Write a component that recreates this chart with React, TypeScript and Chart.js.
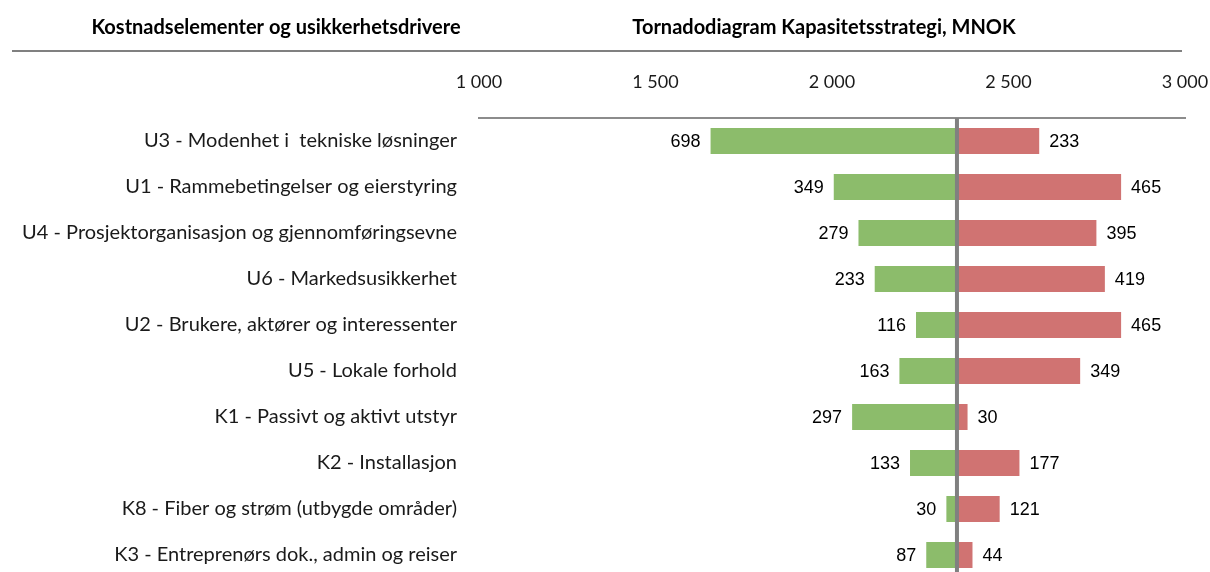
import { useEffect, useRef } from "react";
import { Chart, registerables } from "chart.js";

Chart.register(...registerables);

const categories = [
  "U3 - Modenhet i  tekniske løsninger",
  "U1 - Rammebetingelser og eierstyring",
  "U4 - Prosjektorganisasjon og gjennomføringsevne",
  "U6 - Markedsusikkerhet",
  "U2 - Brukere, aktører og interessenter",
  "U5 - Lokale forhold",
  "K1 - Passivt og aktivt utstyr",
  "K2 - Installasjon",
  "K8 - Fiber og strøm (utbygde områder)",
  "K3 - Entreprenørs dok., admin og reiser",
];
const lowSwing = [698, 349, 279, 233, 116, 163, 297, 133, 30, 87];
const highSwing = [233, 465, 395, 419, 465, 349, 30, 177, 121, 44];
const baseValue = 2354;
const xTickValues = [1000, 1500, 2000, 2500, 3000];
const leftHeader = "Kostnadselementer og usikkerhetsdrivere";
const rightHeader = "Tornadodiagram Kapasitetsstrategi, MNOK";

const GREEN = "#8CBC6B";
const RED = "#D07372";
const LABEL_FONT = "Lato";

function fmt(v: number): string {
  return String(v).replace(/\B(?=(\d{3})+(?!\d))/g, " ");
}

const overlayPlugin = {
  id: "tornadoOverlay",
  afterDatasetsDraw(chart: any) {
    const { ctx, chartArea, scales } = chart;
    const xs = scales.x;
    const ys = scales.y;
    ctx.save();
    // center line
    const cx = xs.getPixelForValue(baseValue);
    ctx.strokeStyle = "#808080";
    ctx.lineWidth = 4;
    ctx.beginPath();
    ctx.moveTo(cx, chartArea.top);
    ctx.lineTo(cx, chartArea.bottom);
    ctx.stroke();
    // value labels
    ctx.font = "18px 'Liberation Sans', Arial, sans-serif";
    ctx.fillStyle = "#000000";
    ctx.textBaseline = "middle";
    categories.forEach((_, i) => {
      const y = ys.getPixelForValue(i) + 1;
      const lx = xs.getPixelForValue(baseValue - lowSwing[i]);
      ctx.textAlign = "right";
      ctx.fillText(String(lowSwing[i]), lx - 10, y);
      const rx = xs.getPixelForValue(baseValue + highSwing[i]);
      ctx.textAlign = "left";
      ctx.fillText(String(highSwing[i]), rx + 10, y);
    });
    ctx.restore();
  },
  afterDraw(chart: any) {
    const { ctx } = chart;
    ctx.save();
    ctx.font = `bold 20px ${LABEL_FONT}, sans-serif`;
    ctx.fillStyle = "#000000";
    ctx.textAlign = "center";
    ctx.textBaseline = "middle";
    ctx.fillText(leftHeader, 276, 28);
    ctx.fillText(rightHeader, 824, 28);
    ctx.strokeStyle = "#808080";
    ctx.lineWidth = 2;
    ctx.beginPath();
    ctx.moveTo(12, 51);
    ctx.lineTo(1182, 51);
    ctx.stroke();
    ctx.restore();
  },
};

export default function App() {
  const ref = useRef<HTMLCanvasElement>(null);
  useEffect(() => {
    document.body.style.overflow = "hidden";
    const chart = new Chart(ref.current as HTMLCanvasElement, {
      type: "bar",
      data: {
        labels: categories,
        datasets: [
          {
            label: "Lav",
            data: lowSwing.map((v) => [baseValue - v, baseValue]) as any,
            backgroundColor: GREEN,
            borderWidth: 0,
            grouped: false,
            categoryPercentage: 0.565,
            barPercentage: 1,
          } as any,
          {
            label: "Høy",
            data: highSwing.map((v) => [baseValue, baseValue + v]) as any,
            backgroundColor: RED,
            borderWidth: 0,
            grouped: false,
            categoryPercentage: 0.565,
            barPercentage: 1,
          } as any,
        ],
      },
      options: {
        indexAxis: "y",
        responsive: false,
        animation: false,
        events: [],
        layout: { padding: { top: 0, left: 0, right: 25, bottom: 42 } },
        plugins: { legend: { display: false }, tooltip: { enabled: false } },
        scales: {
          x: {
            position: "top",
            min: 1000,
            max: 3000,
            afterBuildTicks: (s: any) => {
              s.ticks = xTickValues.map((v) => ({ value: v }));
            },
            ticks: {
              callback: (v: any) => fmt(Number(v)),
              font: { family: LABEL_FONT, size: 18 },
              color: "#1a1a1a",
              padding: 17,
              maxRotation: 0,
            },
            grid: { display: false },
            border: { display: true, color: "#8c8c8c", width: 2 },
            afterFit: (s: any) => {
              s.height = 118;
              s.paddingLeft = 0;
              s.paddingRight = 0;
            },
          },
          y: {
            ticks: {
              font: { family: LABEL_FONT, size: 20 },
              color: "#1a1a1a",
              padding: 14,
              autoSkip: false,
            },
            grid: { display: false },
            border: { display: false },
            afterFit: (s: any) => {
              s.width = 479;
              s.paddingTop = 0;
              s.paddingBottom = 0;
            },
          },
        },
      } as any,
      plugins: [overlayPlugin],
    });
    return () => chart.destroy();
  }, []);
  return (
    <div
      style={{
        position: "absolute",
        left: 0,
        top: 0,
        width: 1210,
        height: 572,
        overflow: "hidden",
        background: "#ffffff",
      }}
    >
      <canvas ref={ref} width={1210} height={620} style={{ display: "block" }} />
    </div>
  );
}
